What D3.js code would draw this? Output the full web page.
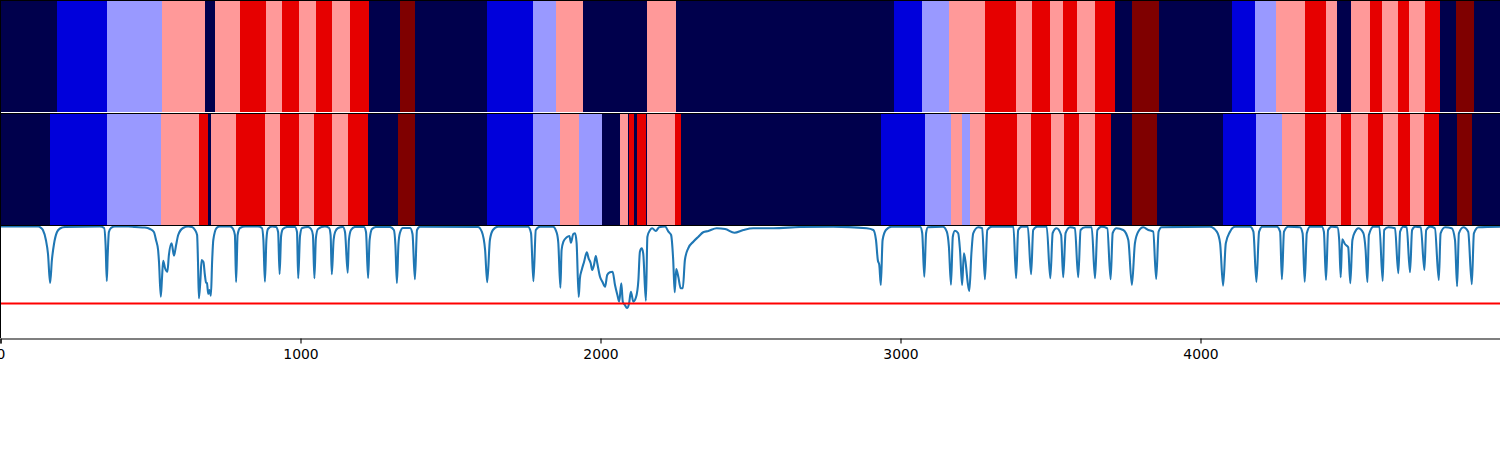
<!DOCTYPE html>
<html><head><meta charset="utf-8">
<script src="https://cdn.jsdelivr.net/npm/d3@7"></script>
<style>html,body{margin:0;padding:0;background:#fff;overflow:hidden}svg{display:block}</style>
</head><body><svg id="c" width="1500" height="450"></svg>
<script>
const xTicks = [0,1000,2000,3000,4000];
const palette = ["#00004c","#0000db","#9999ff","#ff9999","#e60000","#7f0000"];
const threshold = 0.345;

const predStart = [0,190,357,540,683,717,800,887,940,997,1053,1107,1167,1230,1333,1383,1623,1777,1853,1943,2157,2253,2980,3073,3163,3283,3387,3440,3500,3543,3590,3650,3717,3773,3863,4107,4183,4253,4350,4420,4457,4503,4567,4607,4660,4697,4750,4800,4853,4913];
const predClass = [0,1,2,3,0,3,4,3,4,3,4,3,4,0,5,0,1,2,3,0,3,0,1,2,3,4,3,4,3,4,3,4,0,5,0,1,2,3,4,3,0,3,4,3,4,3,4,0,5,0];

const trueStart = [0,167,357,537,663,693,703,787,883,933,997,1047,1107,1160,1227,1327,1383,1623,1777,1867,1930,2007,2067,2092,2097,2113,2123,2153,2157,2250,2270,2937,3083,3170,3207,3233,3283,3390,3437,3503,3547,3597,3650,3703,3773,3857,4077,4187,4273,4350,4420,4470,4503,4560,4610,4660,4700,4747,4797,4857,4907];
const trueClass = [0,1,2,3,4,0,3,4,3,4,3,4,3,4,0,5,0,1,2,3,2,0,3,0,4,0,4,0,3,4,0,1,2,3,2,3,4,3,4,3,4,3,4,0,5,0,1,2,3,4,3,4,3,4,3,4,3,4,0,5,0];

const signalX = [
0,127,137,143,153,160,167,173,180,190,200,217,333,347,352,356,359,363,370,383,
427,450,483,500,513,520,527,530,536,540,544,550,558,563,572,580,587,594,610,627,
640,650,657,660,663,668,672,678,683,687,690,694,698,703,707,711,722,733,767,777,
783,787,792,800,817,860,873,878,883,888,893,907,920,927,932,937,943,957,983,990,
994,1000,1007,1027,1037,1043,1048,1053,1060,1083,1097,1102,1106,1112,1117,1127,1143,1150,1159,1163,
1170,1183,1213,1220,1227,1232,1240,1253,1300,1313,1318,1323,1328,1333,1343,1367,1375,1383,1390,1400,
1593,1606,1617,1624,1633,1643,1660,1760,1770,1778,1786,1800,1843,1856,1861,1868,1872,1878,1889,1898,
1903,1911,1917,1922,1929,1933,1939,1947,1956,1962,1969,1974,1980,1986,1991,2000,2008,2017,2024,2033,
2042,2050,2058,2064,2071,2076,2083,2090,2097,2103,2111,2120,2128,2133,2139,2144,2153,2158,2167,2174,
2186,2197,2217,2228,2237,2244,2249,2254,2261,2269,2276,2283,2294,2311,2328,2344,2361,2389,2417,2448,
2478,2511,2578,2667,2777,2889,2911,2920,2926,2931,2936,2942,2953,2972,3067,3074,3081,3087,3093,3143,
3156,3163,3170,3176,3183,3194,3200,3207,3213,3219,3226,3231,3238,3244,3261,3274,3283,3291,3306,3378,
3387,3394,3406,3426,3437,3444,3457,3489,3501,3509,3522,3537,3544,3552,3567,3583,3594,3602,3617,3639,
3650,3658,3672,3691,3702,3709,3722,3744,3761,3773,3783,3794,3811,3828,3844,3854,3862,3872,4033,4056,
4067,4077,4086,4100,4117,4167,4178,4188,4197,4208,4256,4267,4273,4280,4294,4333,4342,4349,4356,4367,
4406,4413,4420,4427,4439,4458,4464,4469,4474,4483,4494,4501,4508,4517,4528,4544,4552,4558,4563,4578,
4598,4609,4614,4628,4650,4661,4667,4678,4689,4700,4707,4717,4736,4748,4754,4767,4783,4796,4802,4817,
4839,4850,4857,4863,4878,4894,4906,4913,4928,5000
];
const signalY = [
1.115,1.115,1.1,1.08,0.98,0.84,0.55,0.78,0.94,1.06,1.095,1.11,1.115,1.1,0.93,0.57,0.83,1.06,1.1,1.115,
1.115,1.11,1.105,1.09,1.06,0.98,0.88,0.76,0.413,0.6,0.773,0.7,0.663,0.83,0.947,0.823,0.93,1.03,1.1,1.115,
1.11,1.08,1.03,0.76,0.397,0.58,0.78,0.76,0.63,0.553,0.55,0.44,0.48,0.423,0.76,0.98,1.1,1.115,1.115,1.09,
1.03,0.56,1.03,1.1,1.115,1.115,1.1,0.98,0.563,0.98,1.09,1.115,1.11,1.06,0.64,1.02,1.09,1.11,1.11,1.06,
0.597,1.02,1.1,1.11,1.09,1.03,0.597,1,1.09,1.115,1.1,1.03,0.637,0.98,1.06,1.1,1.11,1.06,0.653,0.98,
1.08,1.11,1.11,1.06,0.6,0.98,1.09,1.11,1.11,1.08,0.93,0.55,0.93,1.05,1.1,1.1,1.04,0.587,1.08,1.113,
1.11,1.063,0.88,0.557,0.98,1.08,1.113,1.113,1.05,0.567,1.08,1.113,1.113,1.05,0.95,0.503,0.88,0.963,1.007,1.02,
0.953,1.04,1.047,0.95,0.41,0.597,0.68,0.763,0.857,0.797,0.747,0.68,0.73,0.82,0.747,0.613,0.563,0.513,0.63,0.657,
0.663,0.53,0.43,0.363,0.547,0.363,0.33,0.3,0.347,0.463,0.363,0.407,0.58,0.863,0.897,0.847,0.373,1.013,1.08,1.097,
1.07,1.107,1.115,1.063,1.03,0.78,0.457,0.69,0.613,0.497,0.497,0.78,0.897,0.963,1.013,1.057,1.07,1.097,1.09,1.053,
1.08,1.097,1.097,1.11,1.113,1.097,1.08,0.98,0.78,0.73,0.53,0.98,1.08,1.113,1.113,1.05,0.613,1.05,1.107,1.113,
1.063,0.913,0.533,1.013,1.073,1.047,0.88,0.53,0.847,0.747,0.547,0.47,0.847,1.047,1.107,1.097,0.587,1.08,1.113,1.113,
0.597,1.08,1.113,1.113,0.637,1.08,1.113,1.113,0.597,1.05,1.097,1.03,0.607,1.05,1.107,1.097,0.607,1.08,1.107,1.107,
0.597,1.08,1.113,1.097,0.587,1.05,1.097,1.08,0.98,0.53,0.947,1.063,1.107,1.08,1.063,0.59,1.063,1.107,1.113,1.063,
0.947,0.523,0.947,1.063,1.113,1.113,1.063,0.56,1.063,1.113,1.113,1.063,0.587,1.063,1.113,1.107,1.047,0.563,1.047,1.113,
1.113,1.063,0.58,1.08,1.113,1.107,0.98,0.607,0.987,0.94,0.907,0.547,0.98,1.063,1.097,1.053,0.88,0.56,1.03,1.113,
1.113,0.57,1.08,1.107,1.097,0.647,1.063,1.113,1.107,0.657,1.08,1.113,1.107,0.68,1.08,1.113,1.097,0.58,1.047,1.107,
1.097,0.98,0.517,1.047,1.107,1.063,0.537,1.047,1.107,1.113
];

const x = d3.scaleLinear().domain([0,5000]).range([0,1500]);
const yVal = d3.scaleLinear().domain([0,1.12]).range([338,226]);
const svg = d3.select("#c");

function stripe(top, bottom, starts, classes) {
  svg.append("g").attr("shape-rendering","crispEdges")
    .selectAll("rect").data(starts).join("rect")
    .attr("x", d => x(d))
    .attr("width", (d,i) => x(i+1 < starts.length ? starts[i+1] : 5000) - x(d))
    .attr("y", top).attr("height", bottom - top)
    .attr("fill", (d,i) => palette[classes[i]]);
}
stripe(0, 112, predStart, predClass);
stripe(113, 225, trueStart, trueClass);

svg.append("defs").append("clipPath").attr("id","clip")
  .append("rect").attr("x",0).attr("y",226).attr("width",1500).attr("height",112);

const plot = svg.append("g").attr("clip-path","url(#clip)");
plot.append("path")
  .attr("d", d3.line().curve(d3.curveMonotoneX).x(d => x(d[0])).y(d => yVal(d[1]))(d3.zip(signalX, signalY)))
  .attr("fill","none").attr("stroke","#1f77b4").attr("stroke-width",2.08)
  .attr("stroke-linejoin","round");
plot.append("line")
  .attr("x1",0).attr("x2",1500)
  .attr("y1",yVal(threshold)).attr("y2",yVal(threshold))
  .attr("stroke","#ff0000").attr("stroke-width",2.08);

const spines = svg.append("g").attr("stroke","#000").attr("stroke-width",1.1).attr("shape-rendering","crispEdges");
[0.5,113.5,225.5].forEach(v => spines.append("line").attr("x1",0).attr("x2",1500).attr("y1",v).attr("y2",v));
spines.append("line").attr("x1",0.5).attr("x2",0.5).attr("y1",0).attr("y2",338);

const axis = svg.append("g").attr("transform","translate(0.5,338.5)")
  .call(d3.axisBottom(x).tickValues(xTicks).tickFormat(d3.format("d")).tickSize(5).tickPadding(5.5));
axis.selectAll("text").attr("font-family","'DejaVu Sans'").attr("font-size","13.9px").attr("fill","#000");
axis.selectAll("line").attr("stroke","#000").attr("stroke-width",1.1);
axis.select(".domain").attr("stroke","#000").attr("stroke-width",1.1);
</script>
</body></html>
